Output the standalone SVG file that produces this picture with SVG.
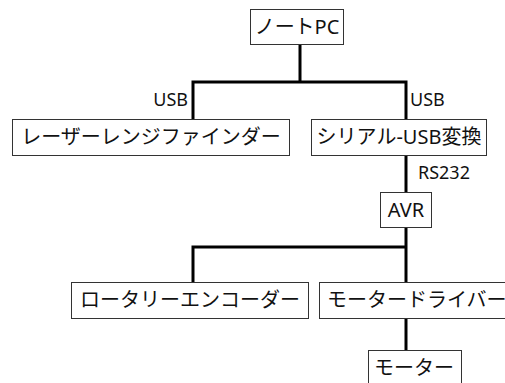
<svg xmlns="http://www.w3.org/2000/svg" width="505" height="383" viewBox="0 0 505 383">
<style>
.box{fill:#fff;stroke:#333;stroke-width:1}
.t{font-family:"Noto Sans","Noto Sans CJK JP",sans-serif;font-size:20px;fill:#111;text-anchor:middle}
.s{text-anchor:start}
.e{font-family:"Noto Sans","Noto Sans CJK JP",sans-serif;font-size:18px;fill:#111}
.r{text-anchor:end}
.c{fill:none;stroke:#000;stroke-width:3}
</style>
<rect width="505" height="383" fill="#fff"/>
<g id="connectors">
<path class="c" d="M300,44 V82"/>
<path class="c" d="M193,119 V82 H406 V119"/>
<path class="c" d="M406,155 V192"/>
<path class="c" d="M406,227 V282"/>
<path class="c" d="M193,282 V247 H406"/>
<path class="c" d="M406,318 V351"/>
<text class="e r" x="188" y="106">USB</text>
<text class="e" x="410" y="106">USB</text>
<text class="e" x="418" y="179">RS232</text>
</g>
<g id="notepc">
<rect class="box" x="250.5" y="9.5" width="93" height="35"/>
<text class="t" x="297" y="34">ノートPC</text>
</g>
<g id="laser">
<rect class="box" x="12.5" y="119.5" width="277" height="36"/>
<text class="t" x="151" y="144">レーザーレンジファインダー</text>
</g>
<g id="serial">
<rect class="box" x="311.5" y="119.5" width="175" height="36"/>
<text class="t" x="399" y="144">シリアル-USB変換</text>
</g>
<g id="avr">
<rect class="box" x="380.5" y="192.5" width="51" height="35"/>
<text class="t" x="406" y="217">AVR</text>
</g>
<g id="encoder">
<rect class="box" x="71.5" y="282.5" width="237" height="36"/>
<text class="t" x="190" y="307">ロータリーエンコーダー</text>
</g>
<g id="driver">
<rect class="box" x="319.5" y="282.5" width="196" height="36"/>
<text class="t s" x="327" y="307">モータードライバー</text>
</g>
<g id="motor">
<rect class="box" x="368.5" y="350.5" width="93" height="40"/>
<text class="t" x="414" y="375">モーター</text>
</g>
</svg>
